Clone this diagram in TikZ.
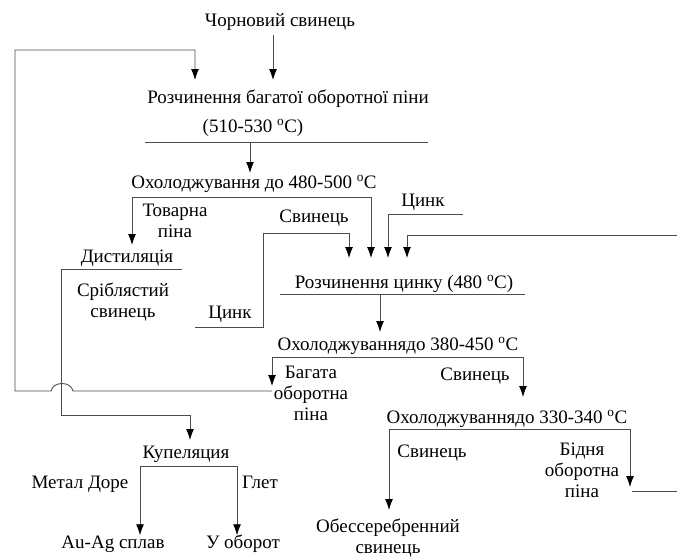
\documentclass[tikz,border=0pt]{standalone}
\usepackage{fontspec}
\setmainfont{Liberation Serif}
\usetikzlibrary{arrows.meta}

\begin{document}
\begin{tikzpicture}[x=1pt,y=-1pt,>={Latex[length=11pt,width=8pt,color=black]},
  txt/.style={anchor=base,inner sep=0pt,align=center,font=\fontsize{19}{21}\selectfont},
  ln/.style={line width=0.9pt,draw=black!70}]
  \useasboundingbox (0,0) rectangle (677,558);
  % stage texts (multi-line ones sit on their last line)
  \node[txt] (raw) at (280,26) {Чорновий свинець};
  \node[txt] (melt) at (288,103) {Розчинення багатої оборотної піни};
  \node[txt] (melttemp) at (253,132) {(510-530 \textsuperscript{o}C)};
  \node[txt] (coolA) at (254,188) {Охолоджування до 480-500 \textsuperscript{o}C};
  \node[txt] (froth) at (175,237) {Товарна\\піна};
  \node[txt] (distil) at (127,262) {Дистиляція};
  \node[txt] (silverpb) at (123,317) {Сріблястий\\свинець};
  \node[txt] (znlow) at (230,318) {Цинк};
  \node[txt] (pbin) at (314,222) {Свинець};
  \node[txt] (znup) at (423,206) {Цинк};
  \node[txt] (znmelt) at (404,288) {Розчинення цинку (480 \textsuperscript{o}C)};
  \node[txt] (coolB) at (398,350) {Охолоджуваннядо 380-450 \textsuperscript{o}C};
  \node[txt] (richfroth) at (311,420) {Багата\\оборотна\\піна};
  \node[txt] (pbB) at (475,380) {Свинець};
  \node[txt] (coolC) at (507,423) {Охолоджуваннядо 330-340 \textsuperscript{o}C};
  \node[txt] (pbC) at (432,457) {Свинець};
  \node[txt] (poorfroth) at (582,497) {Бідня\\оборотна\\піна};
  \node[txt] (desilv) at (388,553) {Обессеребренний\\свинець};
  \node[txt] (cupel) at (186,458) {Купеляция};
  \node[txt] (dore) at (80,488) {Метал Доре};
  \node[txt] (glet) at (260,488) {Глет};
  \node[txt] (auag) at (113,548) {Au-Ag сплав};
  \node[txt] (back) at (243,548) {У оборот};
  % line corners
  \coordinate (rawout) at (273,35);  \coordinate (meltin) at (273,80);
  \coordinate (loopin) at (195,80);  \coordinate (loopcut) at (15,50);
  \coordinate (meltL) at (145,142);  \coordinate (meltR) at (428,142);
  \coordinate (coolAin) at (250,173);
  \coordinate (coolAL) at (132,197); \coordinate (coolAR) at (371,197);
  \coordinate (distilin) at (132,245);
  \coordinate (distilL) at (61,269); \coordinate (distilR) at (182,269);
  \coordinate (cupelin) at (190,440);
  \coordinate (znlowend) at (195,327); \coordinate (znlowup) at (263,233);
  \coordinate (znupend) at (463,214);
  \coordinate (recend) at (677,235);
  \coordinate (znmeltin) at (349,258);
  \coordinate (znmeltL) at (280,294); \coordinate (znmeltR) at (525,294);
  \coordinate (coolBin) at (380,332);
  \coordinate (coolBL) at (272,357); \coordinate (coolBR) at (523,357);
  \coordinate (richin) at (272,386); \coordinate (coolCin) at (523,397);
  \coordinate (coolCL) at (389,429); \coordinate (coolCR) at (630,429);
  \coordinate (desilvin) at (389,510); \coordinate (poorin) at (630,487);
  \coordinate (poorout) at (632,491);
  \coordinate (cupelL) at (140,466); \coordinate (cupelR) at (237,466);
  % connectors
  \draw[ln,->] (rawout) -- (meltin);
  \draw[ln] (meltL) -- (meltR);
  \draw[ln,->] (meltL -| coolAin) -- (coolAin);
  \draw[ln,<->] (distilin) |- (coolAR) -- (coolAR |- znmeltin);
  \draw[ln] (distilR) -- (distilL) |- (cupelin |- 0,415);
  \draw[ln,->] (cupelin |- 0,415) -- (cupelin);
  \draw[ln,->] (znlowend) -| (znlowup) -| (znmeltin);
  \draw[ln,->] (znupend) -| (388,258);
  \draw[ln,->] (recend) -| (407,258);
  \draw[ln] (znmeltL) -- (znmeltR);
  \draw[ln,->] (znmeltL -| coolBin) -- (coolBin);
  \draw[ln,<->] (richin) |- (coolBR) -- (coolCin);
  \draw[ln,->] (richin |- 0,391) -- (73,391) .. controls (71,381) and (53,381) .. (51,391)
    -| (loopcut) -| (loopin);
  \draw[ln,<->] (desilvin) |- (coolCR) -- (poorin);
  \draw[ln] (poorout) -- (poorout -| recend);
  \draw[ln,<->] (cupelL |- auag.north) |- (cupelR) -- (cupelR |- auag.north);
\end{tikzpicture}
\end{document}
